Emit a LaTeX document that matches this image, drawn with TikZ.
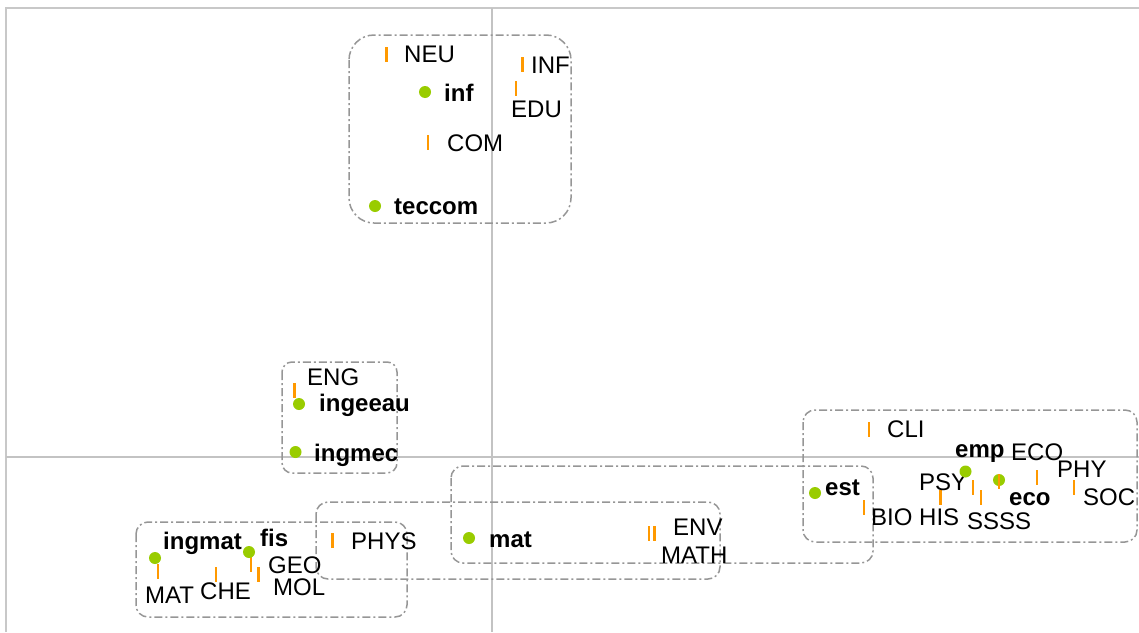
\documentclass[tikz,border=0pt]{standalone}
\usepackage{fontspec}
\setmainfont{Liberation Sans}
\definecolor{framegray}{RGB}{200,200,200}
\definecolor{axisgray}{RGB}{195,195,195}
\definecolor{boxgray}{RGB}{150,150,150}
\definecolor{dotgreen}{RGB}{153,204,0}
\definecolor{tickorange}{RGB}{255,153,0}
\begin{document}
\begin{tikzpicture}[x=1pt,y=-1pt,
  font=\fontsize{24}{28}\selectfont,
  frameline/.style={draw=framegray,line width=2pt},
  axisline/.style={draw=axisgray,line width=1.5pt},
  grp/.style={draw=boxgray,line width=1.5pt,dash pattern=on 8pt off 3pt on 2pt off 3pt},
  dot/.style={circle,fill=dotgreen,inner sep=0pt,minimum size=12pt},
  tick/.style={rectangle,fill=tickorange,inner sep=0pt,minimum width=2.6pt,minimum height=15pt},
  lab/.style={anchor=base west,inner sep=0pt,text=black},
  blab/.style={lab,font=\fontsize{24}{28}\selectfont\bfseries}]
\useasboundingbox (0,0) rectangle (1139,632);

% plot frame and axes
\coordinate (fl) at (6,632);
\coordinate (ftl) at (6,8);
\coordinate (ftr) at (1139,8);
\draw[frameline] (fl) -- (ftl) -- (ftr);
\coordinate (hx0) at (6,457);
\coordinate (hx1) at (1139,457);
\coordinate (vy0) at (492,8);
\coordinate (vy1) at (492,632);
\draw[axisline] (hx0) -- (hx1);
\draw[axisline] (vy0) -- (vy1);

% cluster outlines
\draw[grp,rounded corners=25pt] (349,35) rectangle (571,223);
\draw[grp,rounded corners=10pt] (282,362) rectangle (397,473);
\draw[grp,rounded corners=12pt] (136,522) rectangle (407,617);
\draw[grp,rounded corners=12pt] (316,502) rectangle (720,579);
\draw[grp,rounded corners=12pt] (451,466) rectangle (873,563);
\draw[grp,rounded corners=12pt] (803,410) rectangle (1137,542);

% variable markers
\node[tick] (tNEU) at (386.5,54) {};
\node[tick] (tINF) at (522.5,64) {};
\node[tick] (tEDU) at (516,88) {};
\node[tick] (tCOM) at (428,142) {};
\node[tick] (tENG) at (294.5,390) {};
\node[tick] (tMAT) at (158,571) {};
\node[tick] (tCHE) at (216,574) {};
\node[tick] (tGEO) at (251,564) {};
\node[tick] (tMOL) at (258.5,574) {};
\node[tick] (tPHYS) at (332.5,540) {};
\node[tick] (tENV) at (649,533) {};
\node[tick] (tMATH) at (654.5,533) {};
\node[tick] (tCLI) at (869,429) {};
\node[tick] (tBIO) at (864,507) {};
\node[tick] (tHIS) at (940.5,497) {};
\node[tick] (tPSY) at (973,487) {};
\node[tick] (tSS) at (981,497) {};
\node[tick] (tSSb) at (999,481) {};
\node[tick] (tECO) at (1037,477) {};
\node[tick] (tPHY) at (1074,487) {};

% variable labels
\node[lab] (lNEU) at (404,62) {NEU};
\node[lab] (lINF) at (531,73) {INF};
\node[lab] (lEDU) at (511,117) {EDU};
\node[lab] (lCOM) at (447,151) {COM};
\node[lab] (lENG) at (307,385) {ENG};
\node[lab] (lMAT) at (145,603) {MAT};
\node[lab] (lCHE) at (200,599) {CHE};
\node[lab] (lGEO) at (268,573) {GEO};
\node[lab] (lMOL) at (273,595) {MOL};
\node[lab] (lPHYS) at (351,549) {PHYS};
\node[lab] (lENV) at (673,535) {ENV};
\node[lab] (lMATH) at (661,563) {MATH};
\node[lab] (lCLI) at (887,437) {CLI};
\node[lab] (lECO) at (1011,460) {ECO};
\node[lab] (lPHY) at (1057,477) {PHY};
\node[lab] (lPSY) at (919,490) {PSY};
\node[lab] (lSOC) at (1083,505) {SOC};
\node[lab] (lBIO) at (871,525) {BIO};
\node[lab] (lHIS) at (919,525) {HIS};
\node[lab] (lSSSS) at (967,529) {SSSS};

% individual points
\node[dot] (dinf) at (425,92) {};
\node[dot] (dteccom) at (375,206) {};
\node[dot] (dingeeau) at (299,404) {};
\node[dot] (dingmec) at (295.5,452) {};
\node[dot] (dingmat) at (155,558) {};
\node[dot] (dfis) at (249,552) {};
\node[dot] (dmat) at (469,538) {};
\node[dot] (dest) at (815,493) {};
\node[dot] (demp) at (965.5,471.5) {};
\node[dot] (deco) at (999,480) {};

% individual labels
\node[blab] (linf) at (444,101) {inf};
\node[blab] (lteccom) at (394,214) {teccom};
\node[blab] (lingeeau) at (319,411) {ingeeau};
\node[blab] (lingmec) at (314,461) {ingmec};
\node[blab] (lingmat) at (163,549) {ingmat};
\node[blab] (lfis) at (260,546) {fis};
\node[blab] (lmat) at (489,547) {mat};
\node[blab] (lest) at (825,495) {est};
\node[blab] (lemp) at (955,457) {emp};
\node[blab] (leco) at (1009,505) {eco};

% marker drawn over the eco point
\node[tick] at (tSSb) {};
\end{tikzpicture}
\end{document}
